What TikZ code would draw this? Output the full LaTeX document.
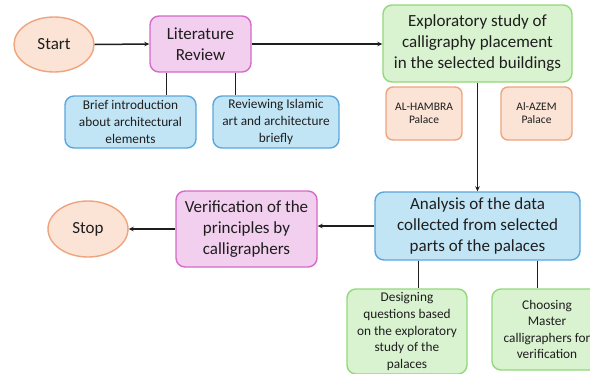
\documentclass[tikz,border=0pt]{standalone}
\usepackage{fontspec}
\setmainfont{Carlito}
\usetikzlibrary{shapes.geometric,arrows.meta,calc}

\definecolor{ink}{HTML}{1E1E1E}
\definecolor{peachfill}{HTML}{FBE3D6}
\definecolor{peachline}{HTML}{F0A47E}
\definecolor{pinkfill}{HTML}{F2CFEE}
\definecolor{pinkline}{HTML}{D46BC8}
\definecolor{bluefill}{HTML}{C2E5F6}
\definecolor{blueline}{HTML}{5AA7DE}
\definecolor{greenfill}{HTML}{D9F2D0}
\definecolor{greenline}{HTML}{92D97A}

\tikzset{
  big/.style={font=\fontsize{17}{21}\selectfont, text=ink, align=center},
  small/.style={font=\fontsize{13.3}{16.6}\selectfont, text=ink, align=center},
  tiny/.style={font=\fontsize{11.5}{13}\selectfont, text=ink, align=center},
  terminal/.style={ellipse, draw=peachline, fill=peachfill, line width=1.4pt, inner sep=0pt, big},
  box/.style={rectangle, rounded corners=9pt, line width=1.4pt, inner sep=0pt},
  pinkbox/.style={box, draw=pinkline, fill=pinkfill},
  bluebox/.style={box, draw=blueline, fill=bluefill},
  greenbox/.style={box, draw=greenline, fill=greenfill},
  peachbox/.style={box, rounded corners=7pt, draw=peachline, fill=peachfill},
  link/.style={draw=ink, line width=1.5pt},
  flow/.style={link, -{Stealth[length=5pt,width=4.5pt]}},
}

\begin{document}
\begin{tikzpicture}[x=1pt,y=-1pt]
\useasboundingbox (0,0) rectangle (590,373);
\fill[white] (0,0) rectangle (590,373);
\clip (0,0) rectangle (590,373);

% top row
\node[terminal, minimum width=80pt, minimum height=55pt] (start) at (54,44.5) {Start};
\node[pinkbox, big, minimum width=101pt, minimum height=56pt] (lit) at (200.5,44) {Literature\\Review};
\node[greenbox, big, minimum width=189pt, minimum height=77pt] (explor) at (477.5,43.5)
  {Exploratory study of\\calligraphy placement\\in the selected buildings};

% literature sub-topics
\node[bluebox, small, minimum width=131pt, minimum height=52pt] (brief) at (130.5,122)
  {Brief introduction\\about architectural\\elements};
\node[bluebox, small, minimum width=126pt, minimum height=52pt] (islamic) at (276,122)
  {Reviewing Islamic\\art and architecture\\briefly};

% selected buildings
\node[peachbox, tiny, minimum width=76pt, minimum height=53pt] (hambra) at (424,113.5) {AL-HAMBRA\\Palace};
\node[peachbox, tiny, minimum width=71pt, minimum height=53pt] (azem) at (536.5,113.5) {Al-AZEM\\Palace};

% second row
\node[bluebox, big, minimum width=205pt, minimum height=68pt] (analysis) at (477.5,226)
  {Analysis of the data\\collected from selected\\parts of the palaces};
\node[pinkbox, big, minimum width=141pt, minimum height=76pt] (verif) at (246.5,229)
  {Verification of the\\principles by\\calligraphers};
\node[terminal, minimum width=80pt, minimum height=56pt] (stop) at (88,229) {Stop};

% analysis outcomes
\node[greenbox, small, minimum width=120pt, minimum height=85pt] (design) at (407,331.5)
  {Designing\\questions based\\on the exploratory\\study of the\\palaces};
\node[greenbox, small, minimum width=110pt, minimum height=81pt] (choose) at (547,329.5)
  {Choosing\\Master\\calligraphers for\\verification};

% main flow
\draw[flow] (start.east) -- (lit.west);
\draw[flow] (lit.east) -- (lit.east -| explor.west);
\draw[flow] (explor.south) -- (analysis.north);
\draw[flow] (analysis.west) -- (analysis.west -| verif.east);
\draw[flow] (verif.west) -- (stop.east);

% branches
\draw[link] ($(lit.south west)!0.168!(lit.south east)$) coordinate (b1) -- (b1 |- brief.north);
\draw[link] ($(lit.south west)!0.84!(lit.south east)$) coordinate (b2) -- (b2 |- islamic.north);
\draw[link] ($(analysis.south west)!0.215!(analysis.south east)$) coordinate (b3) -- (b3 |- design.north);
\draw[link] ($(analysis.south west)!0.79!(analysis.south east)$) coordinate (b4) -- (b4 |- choose.north);
\end{tikzpicture}
\end{document}
